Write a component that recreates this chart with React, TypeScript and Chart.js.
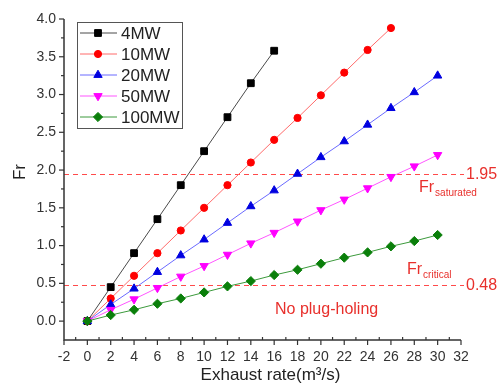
import React, { useEffect, useRef } from "react";
import { Chart, registerables } from "chart.js";

Chart.register(...registerables);

const rate4 = [0, 2, 4, 6, 8, 10, 12, 14, 16];
const rate10 = [0, 2, 4, 6, 8, 10, 12, 14, 16, 18, 20, 22, 24, 26];
const rate30 = [0, 2, 4, 6, 8, 10, 12, 14, 16, 18, 20, 22, 24, 26, 28, 30];

const fr4 = [0, 0.45, 0.9, 1.35, 1.8, 2.25, 2.7, 3.15, 3.58];
const fr10 = [0, 0.3, 0.6, 0.9, 1.2, 1.5, 1.8, 2.1, 2.4, 2.69, 2.99, 3.29, 3.59, 3.88];
const fr20 = [0, 0.22, 0.43, 0.65, 0.87, 1.08, 1.3, 1.52, 1.73, 1.95, 2.17, 2.38, 2.6, 2.82, 3.03, 3.25];
const fr50 = [0, 0.15, 0.29, 0.44, 0.59, 0.73, 0.88, 1.03, 1.17, 1.32, 1.47, 1.61, 1.76, 1.91, 2.05, 2.2];
const fr100 = [0, 0.08, 0.15, 0.23, 0.3, 0.38, 0.46, 0.53, 0.61, 0.68, 0.76, 0.84, 0.91, 0.99, 1.06, 1.14];

const seriesNames = ["4MW", "10MW", "20MW", "50MW", "100MW"];
const xTickValues = [-2, 0, 2, 4, 6, 8, 10, 12, 14, 16, 18, 20, 22, 24, 26, 28, 30, 32];
const yTickValues = [0, 0.5, 1, 1.5, 2, 2.5, 3, 3.5, 4];
const frSaturated = 1.95;
const frCritical = 0.48;

const FONT = '"Liberation Sans", Arial, sans-serif';
const RED_TEXT = "#e8302c";

const toPoints = (xs: number[], ys: number[]) => xs.map((x, i) => ({ x, y: ys[i] }));

type Style = {
  line: string;
  fill: string;
  pointStyle: any;
  radius: number;
  rotation: number;
};

const styles: Style[] = [
  { line: "#4a4a4a", fill: "#000000", pointStyle: "rect", radius: 4.8, rotation: 0 },
  { line: "#ff6a6a", fill: "#ff0000", pointStyle: "circle", radius: 3.6, rotation: 0 },
  { line: "#6a6aff", fill: "#0000e0", pointStyle: "triangle", radius: 4.8, rotation: 0 },
  { line: "#ff55ff", fill: "#ff00ff", pointStyle: "triangle", radius: 4.8, rotation: 180 },
  { line: "#3c9a3c", fill: "#0a7f0a", pointStyle: "rectRot", radius: 4.6, rotation: 0 },
];

function drawMarker(ctx: CanvasRenderingContext2D, st: Style, x: number, y: number) {
  const r = st.radius;
  ctx.beginPath();
  if (st.pointStyle === "rect") {
    const s = r * Math.SQRT1_2;
    ctx.rect(x - s, y - s, 2 * s, 2 * s);
  } else if (st.pointStyle === "circle") {
    ctx.arc(x, y, r, 0, Math.PI * 2);
  } else if (st.pointStyle === "triangle") {
    let a = (st.rotation * Math.PI) / 180;
    ctx.moveTo(x + Math.sin(a) * r, y - Math.cos(a) * r);
    a += (2 * Math.PI) / 3;
    ctx.lineTo(x + Math.sin(a) * r, y - Math.cos(a) * r);
    a += (2 * Math.PI) / 3;
    ctx.lineTo(x + Math.sin(a) * r, y - Math.cos(a) * r);
  } else {
    ctx.moveTo(x, y - r);
    ctx.lineTo(x + r, y);
    ctx.lineTo(x, y + r);
    ctx.lineTo(x - r, y);
  }
  ctx.closePath();
  ctx.fill();
  ctx.stroke();
}

const overlayPlugin = {
  id: "overlay",
  beforeDatasetsDraw(chart: any) {
    const ctx = chart.ctx;
    const xs = chart.scales.x;
    const ys = chart.scales.y;
    const left = chart.chartArea.left;
    ctx.save();
    ctx.strokeStyle = "#ff4a4a";
    ctx.lineWidth = 1.2;
    ctx.setLineDash([5, 4]);
    [frSaturated, frCritical].forEach((v) => {
      const y = Math.round(ys.getPixelForValue(v)) + 0.5;
      ctx.beginPath();
      ctx.moveTo(left, y);
      ctx.lineTo(xs.getPixelForValue(32) + 3, y);
      ctx.stroke();
    });
    ctx.restore();
  },
  afterDraw(chart: any) {
    const ctx = chart.ctx;
    const xs = chart.scales.x;
    const ys = chart.scales.y;
    const { left, right, top, bottom } = chart.chartArea;
    ctx.save();

    // axes
    ctx.strokeStyle = "#333";
    ctx.lineWidth = 1.5;
    ctx.setLineDash([]);
    ctx.beginPath();
    ctx.moveTo(left, top);
    ctx.lineTo(left, bottom);
    ctx.lineTo(right, bottom);
    ctx.stroke();

    // y ticks (outward)
    ctx.lineWidth = 1.2;
    for (let v = 0; v <= 4.001; v += 0.25) {
      const y = ys.getPixelForValue(v);
      const major = Math.abs(v * 2 - Math.round(v * 2)) < 1e-6;
      ctx.beginPath();
      ctx.moveTo(left, y);
      ctx.lineTo(left - (major ? 5 : 3), y);
      ctx.stroke();
    }
    // x ticks: major outward, minor inward
    for (let v = -2; v <= 32; v += 1) {
      const x = xs.getPixelForValue(v);
      const major = v % 2 === 0;
      ctx.beginPath();
      ctx.moveTo(x, bottom);
      ctx.lineTo(x, major ? bottom + 5 : bottom - 3);
      ctx.stroke();
    }

    // tick labels
    ctx.fillStyle = "#333";
    ctx.font = `14px ${FONT}`;
    ctx.textAlign = "right";
    ctx.textBaseline = "middle";
    yTickValues.forEach((v) => {
      ctx.fillText(v.toFixed(1), left - 8, ys.getPixelForValue(v));
    });
    ctx.textAlign = "center";
    ctx.textBaseline = "middle";
    xTickValues.forEach((v) => {
      ctx.fillText(String(v), xs.getPixelForValue(v), bottom + 17);
    });

    // axis titles
    ctx.font = `17px ${FONT}`;
    ctx.fillStyle = "#222";
    ctx.textAlign = "center";
    ctx.fillText("Exhaust rate(m³/s)", (left + right) / 2 + 8, bottom + 35);
    ctx.save();
    ctx.translate(20, 172);
    ctx.rotate(-Math.PI / 2);
    ctx.fillText("Fr", 0, 0);
    ctx.restore();

    // reference labels
    ctx.fillStyle = RED_TEXT;
    ctx.font = `16px ${FONT}`;
    ctx.textAlign = "left";
    ctx.textBaseline = "middle";
    const endX = xs.getPixelForValue(32) + 5;
    ctx.fillText(String(frSaturated), endX, ys.getPixelForValue(frSaturated) + 1);
    ctx.fillText(String(frCritical), endX, ys.getPixelForValue(frCritical) + 1);

    const drawSub = (main: string, sub: string, x: number, y: number) => {
      ctx.font = `16px ${FONT}`;
      ctx.textBaseline = "alphabetic";
      ctx.fillText(main, x, y);
      const w = ctx.measureText(main).width;
      ctx.font = `10px ${FONT}`;
      ctx.fillText(sub, x + w + 1, y + 4);
    };
    drawSub("Fr", "saturated", 419, 192);
    drawSub("Fr", "critical", 407, 274);

    ctx.font = `16px ${FONT}`;
    ctx.textBaseline = "middle";
    ctx.fillText("No plug-holing", 275, 310);

    // legend
    const lx = 77, ly = 22, lw = 105, lh = 106;
    ctx.fillStyle = "#fff";
    ctx.fillRect(lx, ly, lw, lh);
    ctx.strokeStyle = "#555";
    ctx.lineWidth = 1;
    ctx.strokeRect(lx + 0.5, ly + 0.5, lw, lh);
    seriesNames.forEach((name, i) => {
      const y = 33 + i * 21;
      const st = styles[i];
      ctx.strokeStyle = st.line;
      ctx.lineWidth = 1;
      ctx.beginPath();
      ctx.moveTo(80, y);
      ctx.lineTo(117, y);
      ctx.stroke();
      ctx.fillStyle = st.fill;
      ctx.strokeStyle = st.fill;
      drawMarker(ctx, st, 98, y);
      ctx.fillStyle = "#222";
      ctx.font = `17px ${FONT}`;
      ctx.textAlign = "left";
      ctx.textBaseline = "middle";
      ctx.fillText(name, 121, y + 1);
    });

    ctx.restore();
  },
};

export default function App() {
  const ref = useRef<HTMLCanvasElement | null>(null);

  useEffect(() => {
    document.body.style.margin = "0";
    if (!ref.current) return;
    const dataSets = [
      toPoints(rate4, fr4),
      toPoints(rate10, fr10),
      toPoints(rate30, fr20),
      toPoints(rate30, fr50),
      toPoints(rate30, fr100),
    ];
    const chart = new Chart(ref.current, {
      type: "line",
      data: {
        datasets: dataSets.map((d, i) => ({
          label: seriesNames[i],
          data: d,
          borderColor: styles[i].line,
          borderWidth: 1,
          backgroundColor: styles[i].fill,
          pointBackgroundColor: styles[i].fill,
          pointBorderColor: styles[i].fill,
          pointBorderWidth: 1,
          pointStyle: styles[i].pointStyle,
          pointRotation: styles[i].rotation,
          pointRadius: styles[i].radius,
          tension: 0,
          fill: false,
          order: 5 - i,
        })),
      },
      options: {
        responsive: false,
        animation: false,
        layout: { padding: { left: 64, right: 37, top: 19, bottom: 45 } },
        plugins: { legend: { display: false }, tooltip: { enabled: false } },
        scales: {
          x: { type: "linear", min: -2, max: 32, display: false },
          y: { type: "linear", min: -0.25, max: 4.0, display: false },
        },
      },
      plugins: [overlayPlugin],
    });
    return () => chart.destroy();
  }, []);

  return (
    <div style={{ width: 498, height: 385, background: "#fff" }}>
      <canvas ref={ref} width={498} height={385} style={{ display: "block" }} />
    </div>
  );
}
